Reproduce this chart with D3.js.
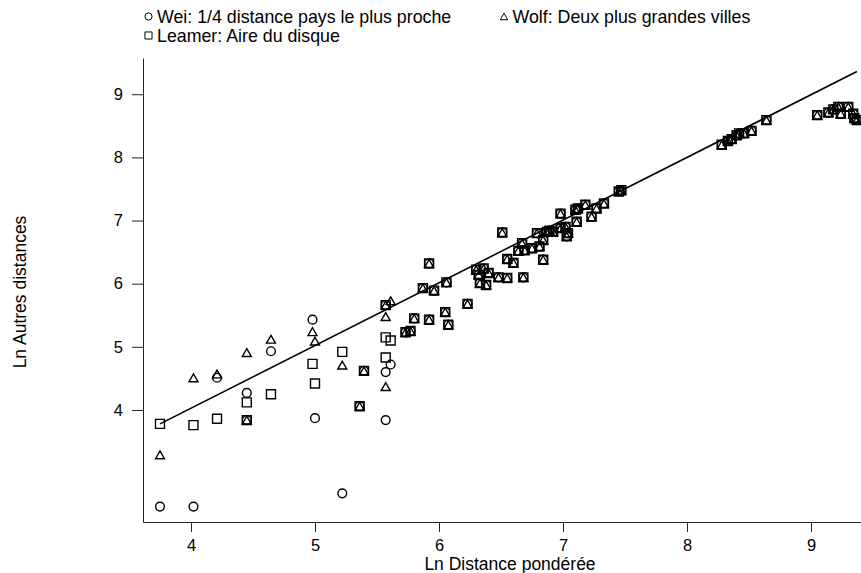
<!DOCTYPE html>
<html>
<head>
<meta charset="utf-8">
<script src="https://cdn.jsdelivr.net/npm/d3@7"></script>
<style>
  body { margin: 0; background: #fff; }
  svg text { font-family: "Liberation Sans", Arial, sans-serif; fill: #000; }
</style>
</head>
<body>
<div id="chart"></div>
<script>
// DATA: one row per country, x = ln distance pondérée, three internal distance measures
const distPond = [3.75, 4.02, 4.21, 4.45, 4.45, 4.645, 4.98, 5.00, 5.22, 5.36,
  5.395, 5.57, 5.61, 5.57, 5.57, 5.73, 5.77, 5.80, 5.92, 5.87,
  5.96, 6.06, 5.92, 6.05, 6.075, 6.23, 6.30, 6.36, 6.32, 6.40,
  6.33, 6.38, 6.48, 6.55, 6.51, 6.68, 6.55, 6.60, 6.64, 6.69,
  6.75, 6.81, 6.67, 6.79, 6.87, 6.84, 6.89, 6.84, 6.92, 6.98,
  7.02, 7.04, 7.03, 7.11, 6.98, 7.10, 7.12, 7.18, 7.27, 7.33,
  7.23, 7.45, 7.47, 8.28, 8.33, 8.36, 8.40, 8.42, 8.46, 8.52,
  8.64, 9.05, 9.14, 9.18, 9.22, 9.24, 9.30, 9.34, 9.35, 9.37];

const wei = [2.47, 2.47, 4.51, 4.27, 3.84, 4.93, 5.43, 3.87, 2.68, 4.06,
  4.62, 5.66, 4.72, 4.60, 3.84, 5.23, 5.25, 5.45, 6.32, 5.93,
  5.89, 6.02, 5.43, 5.55, 5.35, 5.68, 6.22, 6.24, 6.14, 6.17,
  6.01, 5.98, 6.10, 6.09, 6.81, 6.10, 6.39, 6.33, 6.52, 6.53,
  6.56, 6.59, 6.64, 6.80, 6.82, 6.69, 6.84, 6.38, 6.82, 6.88,
  6.90, 6.80, 6.75, 6.98, 7.11, 7.17, 7.19, 7.25, 7.19, 7.27,
  7.06, 7.46, 7.48, 8.20, 8.26, 8.29, 8.35, 8.38, 8.38, 8.42,
  8.59, 8.67, 8.71, 8.76, 8.80, 8.69, 8.80, 8.69, 8.62, 8.59];

const wolf = [3.29, 4.51, 4.57, 4.91, 3.84, 5.12, 5.24, 5.09, 4.71, 4.06,
  4.62, 5.66, 5.73, 5.48, 4.37, 5.23, 5.25, 5.45, 6.32, 5.93,
  5.89, 6.02, 5.43, 5.55, 5.35, 5.68, 6.22, 6.24, 6.14, 6.17,
  6.01, 5.98, 6.10, 6.09, 6.81, 6.10, 6.39, 6.33, 6.52, 6.53,
  6.56, 6.59, 6.64, 6.80, 6.82, 6.69, 6.84, 6.38, 6.82, 6.88,
  6.90, 6.80, 6.75, 6.98, 7.11, 7.17, 7.19, 7.25, 7.19, 7.27,
  7.06, 7.46, 7.48, 8.20, 8.26, 8.29, 8.35, 8.38, 8.38, 8.42,
  8.59, 8.67, 8.71, 8.76, 8.80, 8.69, 8.80, 8.69, 8.62, 8.59];

const leamer = [3.78, 3.76, 3.86, 4.12, 3.84, 4.25, 4.73, 4.42, 4.92, 4.06,
  4.62, 5.66, 5.10, 5.15, 4.83, 5.23, 5.25, 5.45, 6.32, 5.93,
  5.89, 6.02, 5.43, 5.55, 5.35, 5.68, 6.22, 6.24, 6.14, 6.17,
  6.01, 5.98, 6.10, 6.09, 6.81, 6.10, 6.39, 6.33, 6.52, 6.53,
  6.56, 6.59, 6.64, 6.80, 6.82, 6.69, 6.84, 6.38, 6.82, 6.88,
  6.90, 6.80, 6.75, 6.98, 7.11, 7.17, 7.19, 7.25, 7.19, 7.27,
  7.06, 7.46, 7.48, 8.20, 8.26, 8.29, 8.35, 8.38, 8.38, 8.42,
  8.59, 8.67, 8.71, 8.76, 8.80, 8.69, 8.80, 8.69, 8.62, 8.59];

// fitted line, read at its two ends
const fitX = [3.75, 9.37];
const fitY = [3.78, 9.36];

const xTicks = [4, 5, 6, 7, 8, 9];
const yTicks = [4, 5, 6, 7, 8, 9];

const seriesNames = ["Wei: 1/4 distance pays le plus proche", "Wolf: Deux plus grandes villes", "Leamer: Aire du disque"];

// MARGIN CONVENTIONS
const margin = { top: 58, right: 0, bottom: 51, left: 143 };
const outerWidth = 861;
const outerHeight = 573;
const width = outerWidth - margin.left - margin.right;
const height = outerHeight - margin.top - margin.bottom;

const svg = d3.select("#chart").append("svg")
  .attr("width", outerWidth)
  .attr("height", outerHeight);

const g = svg.append("g")
  .attr("transform", `translate(${margin.left}, ${margin.top})`);

// scales
const x = d3.scaleLinear().domain([3.613, 9.403]).range([0, width]);
const y = d3.scaleLinear().domain([2.226, 9.574]).range([height, 0]);

// axes
const xAxis = g.append("g")
  .attr("transform", `translate(0, ${height})`)
  .call(d3.axisBottom(x).tickValues(xTicks).tickFormat(d3.format("d"))
    .tickSize(10).tickSizeOuter(0).tickPadding(7));

const yAxis = g.append("g")
  .call(d3.axisLeft(y).tickValues(yTicks).tickFormat(d3.format("d"))
    .tickSize(11).tickSizeOuter(0).tickPadding(9));

[xAxis, yAxis].forEach(a => {
  a.selectAll("path, line").attr("stroke", "#222").attr("stroke-width", 1);
  a.selectAll("text").style("font-size", "16.5px").attr("fill", "#000");
});

// fitted line
const fitLine = d3.line().x(d => x(d[0])).y(d => y(d[1]));
g.append("path")
  .attr("d", fitLine(d3.zip(fitX, fitY)))
  .attr("fill", "none")
  .attr("stroke", "#000")
  .attr("stroke-width", 1.6);

// markers: triangle centred on its bounding box, like the stata symbol
const triangle = {
  draw(context, size) {
    const s = Math.sqrt(size), h = s * 0.87;
    context.moveTo(0, -h / 2);
    context.lineTo(s / 2, h / 2);
    context.lineTo(-s / 2, h / 2);
    context.closePath();
  }
};
const symbols = [
  d3.symbol().type(d3.symbolCircle).size(60),
  d3.symbol().type(triangle).size(81),
  d3.symbol().type(d3.symbolSquare).size(81)
];
const seriesValues = [wei, wolf, leamer];

seriesValues.forEach((vals, s) => {
  g.append("g").selectAll("path")
    .data(distPond.map((d, i) => [d, vals[i]]))
    .join("path")
    .attr("d", symbols[s]())
    .attr("transform", d => `translate(${x(d[0])},${y(d[1])})`)
    .attr("fill", "none")
    .attr("stroke", "#000")
    .attr("stroke-width", 1.4);
});

// labels
g.append("text")
  .attr("text-anchor", "middle")
  .attr("x", 510 - margin.left)
  .attr("y", height + 48)
  .style("font-size", "17.5px")
  .text("Ln Distance pondérée");

g.append("text")
  .attr("text-anchor", "middle")
  .attr("transform", "rotate(-90)")
  .attr("x", -(292 - margin.top))
  .attr("y", -margin.left + 26)
  .style("font-size", "17.5px")
  .text("Ln Autres distances");

// legend
const legendSymbols = [
  d3.symbol().type(d3.symbolCircle).size(40),
  d3.symbol().type(triangle).size(56),
  d3.symbol().type(d3.symbolSquare).size(50)
];
const legendPos = [[148.5, 22.5], [504, 22.5], [148.5, 41.5]];
const legend = svg.append("g");
seriesNames.forEach((name, i) => {
  const [lx, ly] = legendPos[i];
  legend.append("path")
    .attr("d", legendSymbols[i]())
    .attr("transform", `translate(${lx},${ly - 6})`)
    .attr("fill", "none")
    .attr("stroke", "#000")
    .attr("stroke-width", 1);
  legend.append("text")
    .attr("x", lx + 8.5)
    .attr("y", ly)
    .style("font-size", "17.8px")
    .text(name);
});
</script>
</body>
</html>
